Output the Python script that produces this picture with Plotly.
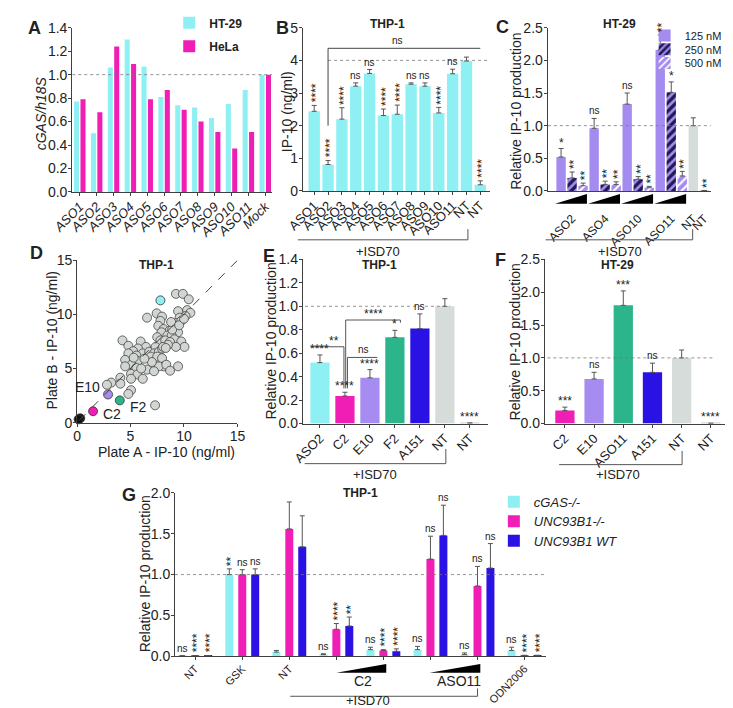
import plotly.graph_objects as go

W, H = 733, 708
def X(p): return p / W
def Y(p): return 1 - p / H

FONT = "Liberation Sans, Arial, Helvetica, sans-serif"
CYAN = "#8ef0f3"
MAGENTA = "#f01eb4"
BLUE = "#2b12e4"
LAVENDER = "#a68cf0"
GREEN = "#2cb48b"
GREY = "#d6dcda"
PURPLE = "#a48bf0"
NAVY = "#211a52"
AXC = "#404040"
ERRC = "#555555"
TXT = "#222222"

# ---------------- data ----------------
# Panel A
a_labels = ["ASO1", "ASO2", "ASO3", "ASO4", "ASO5", "ASO6", "ASO7", "ASO8", "ASO9", "ASO10", "ASO11", "Mock"]
a_ht29 = [0.77, 0.50, 1.06, 1.30, 1.07, 0.81, 0.74, 0.72, 0.63, 0.75, 0.87, 1.00]
a_hela = [0.79, 0.68, 1.24, 1.09, 0.79, 0.87, 0.70, 0.60, 0.51, 0.37, 0.51, 1.00]

# Panel B
b_labels = ["ASO1", "ASO2", "ASO3", "ASO4", "ASO5", "ASO6", "ASO7", "ASO8", "ASO9", "ASO10", "ASO11", "NT", "NT"]
b_vals = [2.44, 0.81, 2.20, 3.21, 3.60, 2.31, 2.35, 3.27, 3.21, 2.39, 3.59, 3.98, 0.19]
b_err = [0.18, 0.12, 0.35, 0.10, 0.12, 0.20, 0.28, 0.04, 0.10, 0.17, 0.14, 0.12, 0.12]
b_sig = ["****", "****", "****", "ns", "ns", "****", "****", "ns", "ns", "****", "ns", "", "****"]

# Panel C
c_groups = ["ASO2", "ASO4", "ASO10", "ASO11"]
c_nt_labels = ["NT", "NT"]
c_125 = [0.52, 0.96, 1.33, 2.16]
c_125_err = [0.13, 0.15, 0.17, 0.23]
c_250 = [0.20, 0.10, 0.18, 1.51]
c_250_err = [0.09, 0.05, 0.04, 0.16]
c_500 = [0.08, 0.10, 0.05, 0.23]
c_500_err = [0.04, 0.04, 0.02, 0.07]
c_nt = [1.00, 0.005]
c_nt_err = [0.12, 0.0]
c_sig_125 = ["*", "ns", "ns", "**"]
c_sig_250 = ["**", "**", "**", "*"]
c_sig_500 = ["**", "**", "**", "**"]
c_sig_nt = ["", "**"]

# Panel D
d_plate_a = [9.25, 9.9, 10.45, 7.45, 7.95, 6.55, 7.8, 9.45, 10.3, 10.6,
             10.15, 9.6, 9.25, 9.75, 9.0, 7.6, 8.1, 8.65, 7.9, 9.15,
             9.45, 8.45, 8.85, 7.5, 7.8, 8.25, 9.1, 8.7, 9.75, 10.05,
             9.25, 4.25, 4.8, 5.95, 6.45, 5.7, 5.25, 4.8, 6.15, 6.75,
             7.35, 7.2, 7.65, 7.95, 6.9, 7.5, 5.55, 4.5, 5.7, 5.1,
             4.5, 7.95, 8.1, 7.65, 8.35, 6.55, 7.2, 8.7, 9.45, 5.55,
             5.05, 5.65, 6.15, 5.05, 4.05, 4.05, 3.2, 2.8, 5.05, 4.8,
             7.3, 8.5, 8.9, 8.05, 7.0, 6.0, 8.8, 9.55, 10.0, 8.3,
             6.3, 5.3]
d_plate_b = [11.9, 11.9, 11.4, 10.1, 9.8, 9.7, 9.4, 10.3, 10.4, 10.15,
             9.85, 9.7, 9.2, 9.4, 9.0, 8.95, 8.65, 8.5, 8.35, 8.65,
             8.35, 8.05, 8.05, 7.9, 7.6, 7.6, 7.7, 7.45, 7.5, 7.0,
             7.0, 7.6, 7.1, 7.5, 7.0, 6.85, 6.6, 6.4, 6.4, 6.55,
             7.0, 6.4, 6.55, 6.85, 6.1, 6.1, 6.2, 5.8, 5.7, 5.35,
             5.2, 5.95, 5.2, 5.2, 5.35, 4.9, 4.75, 4.8, 5.2, 5.05,
             4.5, 4.45, 4.05, 4.05, 4.15, 3.6, 3.7, 3.5, 3.0, 2.65,
             1.6, 7.2, 8.6, 7.0, 5.6, 5.0, 9.3, 9.0, 9.6, 6.9,
             5.9, 6.0]
d_hits_names = ["ASO2", "E10", "F2", "C2", "NT", "NT"]
d_hits_a = [7.8, 2.9, 4.0, 1.5, 0.3, 0.15]
d_hits_b = [11.3, 2.6, 2.05, 1.05, 0.4, 0.3]
d_hits_colors = [CYAN, LAVENDER, GREEN, MAGENTA, "#111111", "#111111"]

# Panel E
e_labels = ["ASO2", "C2", "E10", "F2", "A151", "NT", "NT"]
e_vals = [0.52, 0.235, 0.39, 0.735, 0.81, 1.00, 0.004]
e_err = [0.065, 0.032, 0.07, 0.06, 0.125, 0.065, 0.0]
e_colors = [CYAN, MAGENTA, LAVENDER, GREEN, BLUE, GREY, GREY]
e_sig = ["****", "****", "****", "*", "ns", "", "****"]

# Panel F
f_labels = ["C2", "E10", "ASO11", "A151", "NT", "NT"]
f_vals = [0.20, 0.68, 1.80, 0.78, 1.00, 0.004]
f_err = [0.05, 0.10, 0.22, 0.14, 0.12, 0.0]
f_colors = [MAGENTA, LAVENDER, GREEN, BLUE, GREY, GREY]
f_sig = ["***", "ns", "***", "ns", "", "****"]

# Panel G
g_labels = ["NT", "GSK", "NT", "", "", "", "", "ODN2006"]
g_cgas = [0.005, 1.00, 0.05, 0.02, 0.08, 0.08, 0.02, 0.07]
g_cgas_err = [0.0, 0.07, 0.02, 0.01, 0.03, 0.04, 0.02, 0.04]
g_ko = [0.008, 1.00, 1.56, 0.33, 0.07, 1.19, 0.86, 0.01]
g_ko_err = [0.0, 0.06, 0.33, 0.07, 0.01, 0.28, 0.24, 0.0]
g_wt = [0.008, 1.00, 1.34, 0.37, 0.06, 1.48, 1.08, 0.01]
g_wt_err = [0.0, 0.07, 0.38, 0.11, 0.03, 0.37, 0.30, 0.0]
g_sig_cgas = ["ns", "**", "", "ns", "ns", "ns", "ns", "ns"]
g_sig_ko = ["****", "ns", "", "****", "****", "ns", "ns", "****"]
g_sig_wt = ["****", "ns", "", "**", "****", "ns", "ns", "****"]

# ---------------- helpers ----------------
fig = go.Figure()


def bars(xa, ya, xs, ys, color, width, center=0.0, err=None, pattern=None,
         name=None, legend=None):
    marker = dict(color=color, line=dict(width=0))
    if pattern is not None:
        marker["pattern"] = pattern
    kw = dict(x=xs, y=ys, xaxis=xa, yaxis=ya, width=width, offset=center - width / 2,
              marker=marker, showlegend=name is not None, name=name or "",
              hoverinfo="skip")
    if legend:
        kw["legend"] = legend
    if err is not None:
        kw["error_y"] = dict(type="data", array=err, arrayminus=[0] * len(err),
                             symmetric=False, color=ERRC, thickness=1, width=2.5)
    fig.add_trace(go.Bar(**kw))


def sig(xa, ya, x, y, text, vertical=True):
    if not text:
        return
    star = "*" in text
    rot = vertical and star and len(text) > 1
    fig.add_annotation(x=x, y=y, xref=xa, yref=ya, text=text, showarrow=False,
                       textangle=-90 if rot else 0, xanchor="center", yanchor="bottom",
                       yshift=(1 if rot else (-3 if star else 0)), xshift=(2 if rot else 0),
                       font=dict(size=12 if star else 10, color=TXT, family=FONT))


def line(xa, ya, x0, y0, x1, y1, color=ERRC, width=1, dash=None):
    ln = dict(color=color, width=width)
    if dash:
        ln["dash"] = dash
    fig.add_shape(type="line", xref=xa, yref=ya, x0=x0, y0=y0, x1=x1, y1=y1, line=ln)


def text(xp, yp, t, size=13, bold=False, angle=0, italic=False, xanchor="center", color=TXT):
    if bold:
        t = "<b>" + t + "</b>"
    if italic:
        t = "<i>" + t + "</i>"
    fig.add_annotation(x=X(xp), y=Y(yp), xref="paper", yref="paper", text=t, showarrow=False,
                       textangle=angle, xanchor=xanchor, yanchor="middle",
                       font=dict(size=size, color=color, family=FONT))


def isd_bracket(x0, x1, ytop, ybar, xlab, ylab):
    fig.add_shape(type="line", xref="paper", yref="paper", x0=X(x0), x1=X(x1), y0=Y(ybar), y1=Y(ybar),
                  line=dict(color="#555", width=1))
    fig.add_shape(type="line", xref="paper", yref="paper", x0=X(x1), x1=X(x1), y0=Y(ytop), y1=Y(ybar),
                  line=dict(color="#555", width=1))
    text(xlab, ylab, "+ISD70", size=13)


def wedge(xa, x0, x1, ytop, ybot):
    fig.add_shape(type="path", xref=xa, yref="paper",
                  path=f"M {x0},{Y(ybot)} L {x1},{Y(ybot)} L {x1},{Y(ytop)} Z",
                  fillcolor="black", line=dict(width=0))


# ---------------- Panel A ----------------
ia = list(range(len(a_labels)))
bars("x", "y", ia, a_ht29, CYAN, 0.30, -0.19, name="<b>HT-29</b>", legend="legend")
bars("x", "y", ia, a_hela, MAGENTA, 0.30, 0.19, name="<b>HeLa</b>", legend="legend2")
line("x", "y", -0.45, 1.0, 11.45, 1.0, color="#777", width=0.8, dash="dot")

# ---------------- Panel B ----------------
ib = list(range(len(b_labels)))
bars("x2", "y2", ib, b_vals, CYAN, 0.82, 0.0, err=b_err)
for i in ib:
    sig("x2", "y2", i, b_vals[i] + b_err[i], b_sig[i])
line("x2", "y2", 1, 4.0, 12.6, 4.0, color="#777", width=0.8, dash="dot")
line("x2", "y2", 1, 4.37, 12.0, 4.37, color="#444")
line("x2", "y2", 1, 4.37, 1, 2.0, color="#444")
fig.add_annotation(x=6.0, y=4.37, xref="x2", yref="y2", text="ns", showarrow=False,
                   yanchor="bottom", font=dict(size=10, color=TXT, family=FONT))

# ---------------- Panel C ----------------
pos125 = [3 * g for g in range(4)]
pos250 = [3 * g + 1 for g in range(4)]
pos500 = [3 * g + 2 for g in range(4)]
posnt = [12, 13]
bars("x3", "y3", pos125, c_125, PURPLE, 0.85, err=c_125_err, name="125 nM", legend="legend3")
bars("x3", "y3", pos250, c_250, PURPLE, 0.85, err=c_250_err, name="250 nM", legend="legend4",
     pattern=dict(shape="/", fgcolor=NAVY, bgcolor=PURPLE, size=6, solidity=0.55, fillmode="replace"))
bars("x3", "y3", pos500, c_500, PURPLE, 0.85, err=c_500_err, name="500 nM", legend="legend5",
     pattern=dict(shape="/", fgcolor="white", bgcolor=PURPLE, size=6, solidity=0.35, fillmode="replace"))
bars("x3", "y3", posnt, c_nt, GREY, 0.85, err=c_nt_err)
for k in range(4):
    sig("x3", "y3", pos125[k], c_125[k] + c_125_err[k], c_sig_125[k])
    sig("x3", "y3", pos250[k], c_250[k] + c_250_err[k], c_sig_250[k])
    sig("x3", "y3", pos500[k], c_500[k] + c_500_err[k], c_sig_500[k])
    wedge("x3", 3 * k - 0.55, 3 * k + 2.35, 182, 192)
for k in range(2):
    sig("x3", "y3", posnt[k], c_nt[k] + c_nt_err[k], c_sig_nt[k])
line("x3", "y3", -1.2, 1.0, 13.6, 1.0, color="#777", width=0.8, dash="dot")

# ---------------- Panel D ----------------
line("x4", "y4", 0.2, 0.2, 15, 15, color="#444", width=1, dash="dash")
fig.add_trace(go.Scatter(x=d_plate_a, y=d_plate_b, xaxis="x4", yaxis="y4", mode="markers",
                         marker=dict(size=9, color="#d2d6d3", line=dict(color="#444", width=0.8)),
                         showlegend=False, hoverinfo="skip", cliponaxis=False))
fig.add_trace(go.Scatter(x=d_hits_a, y=d_hits_b, xaxis="x4", yaxis="y4", mode="markers",
                         marker=dict(size=9, color=d_hits_colors, line=dict(color="#333", width=0.8)),
                         showlegend=False, hoverinfo="skip", cliponaxis=False))
for name, xv, yv, anc, xs, ys in [("E10", 2.9, 2.6, "right", -6, 7), ("F2", 4.0, 2.05, "left", 8, -7),
                                  ("C2", 1.5, 1.05, "left", 8, -3)]:
    fig.add_annotation(x=xv, y=yv, xref="x4", yref="y4", text=name, showarrow=False,
                       xanchor=anc, yanchor="middle", xshift=xs, yshift=ys,
                       font=dict(size=14, color=TXT, family=FONT))

# ---------------- Panel E ----------------
ie = list(range(len(e_labels)))
bars("x5", "y5", ie, e_vals, e_colors, 0.77, err=e_err)
for i in ie:
    sig("x5", "y5", i, e_vals[i] + e_err[i], e_sig[i], vertical=False)
line("x5", "y5", -0.6, 1.0, 5.2, 1.0, color="#777", width=0.8, dash="dot")
# comparison brackets
line("x5", "y5", -0.38, 0.655, 0.96, 0.655)
line("x5", "y5", 0.96, 0.655, 0.96, 0.30)
line("x5", "y5", 1.1, 0.564, 2.3, 0.564)
line("x5", "y5", 1.1, 0.564, 1.1, 0.30)
line("x5", "y5", 1.03, 0.883, 3.22, 0.883)
line("x5", "y5", 1.03, 0.883, 1.03, 0.30)
line("x5", "y5", 3.22, 0.883, 3.22, 0.86)
for xt, yt, tt in [(0.55, 0.655, "**"), (1.75, 0.564, "ns"), (2.15, 0.883, "****")]:
    sig("x5", "y5", xt, yt, tt, vertical=False)

# ---------------- Panel F ----------------
iff = list(range(len(f_labels)))
bars("x6", "y6", iff, f_vals, f_colors, 0.66, err=f_err)
for i in iff:
    sig("x6", "y6", i, f_vals[i] + f_err[i], f_sig[i], vertical=False)
line("x6", "y6", -0.6, 1.0, 5.1, 1.0, color="#777", width=0.8, dash="dot")

# ---------------- Panel G ----------------
ig = list(range(len(g_labels)))
bars("x7", "y7", ig, g_cgas, CYAN, 0.17, -0.275, err=g_cgas_err, name="<i>cGAS-/-</i>", legend="legend6")
bars("x7", "y7", ig, g_ko, MAGENTA, 0.17, 0.0, err=g_ko_err, name="<i>UNC93B1-/-</i>", legend="legend7")
bars("x7", "y7", ig, g_wt, BLUE, 0.17, 0.275, err=g_wt_err, name="<i>UNC93B1 WT</i>", legend="legend8")
for i in ig:
    sig("x7", "y7", i - 0.275, g_cgas[i] + g_cgas_err[i], g_sig_cgas[i])
    sig("x7", "y7", i, g_ko[i] + g_ko_err[i], g_sig_ko[i])
    sig("x7", "y7", i + 0.275, g_wt[i] + g_wt_err[i], g_sig_wt[i])
line("x7", "y7", -0.43, 1.0, 7.45, 1.0, color="#777", width=0.8, dash="dot")
wedge("x7", 3.0, 4.06, 663, 672)
wedge("x7", 4.98, 6.06, 663, 672)
text(348, 680, "C2", size=14)
text(448, 680, "ASO11", size=14)

# ---------------- brackets +ISD70 ----------------
isd_bracket(280, 457, 218, 229, 363, 241)
isd_bracket(538, 691, 218, 229, 615, 241)
isd_bracket(287, 434, 443, 458, 360, 469)
isd_bracket(552, 680, 445, 459, 613, 469)
isd_bracket(272, 467, 688, 696, 353, 700)

# ---------------- panel letters, titles, axis titles ----------------
for L, xp, yp in [("A", 6, 12), ("B", 264, 12), ("C", 493, 11), ("D", 8, 242),
                  ("E", 250, 246), ("F", 491, 250), ("G", 104, 490)]:
    text(xp, yp, L, size=18, bold=True)
for t, xp, yp in [("THP-1", 373, 8), ("HT-29", 615, 8), ("THP-1", 133, 255),
                  ("THP-1", 365, 255), ("HT-29", 613, 255), ("THP-1", 345, 488)]:
    text(xp, yp, t, size=12, bold=True)
text(12, 100, "<i>cGAS/h18S</i>", size=14, angle=-90)
text(268, 98, "IP-10 (ng/ml)", size=14, angle=-90)
text(507, 97, "Relative IP-10 production", size=14, angle=-90)
text(24, 332, "Plate B - IP-10 (ng/ml)", size=14, angle=-90)
text(143, 446, "Plate A - IP-10 (ng/ml)", size=14)
text(252, 333, "Relative IP-10 production", size=14, angle=-90)
text(506, 333, "Relative IP-10 production", size=14, angle=-90)
text(121, 571, "Relative IP-10 production", size=14, angle=-90)

# ---------------- axes ----------------
TF = dict(size=14, color=TXT, family=FONT)
XF = dict(size=13, color=TXT, family=FONT)


def yax(top, bot, rng, dtick, fmt, anchor):
    return dict(domain=[Y(bot), Y(top)], range=rng, dtick=dtick, tick0=0, tickformat=fmt,
                anchor=anchor, showline=True, linecolor=AXC, linewidth=1, ticks="outside",
                ticklen=3, tickcolor=AXC, showgrid=False, zeroline=False, tickfont=TF,
                fixedrange=True, ticklabelstandoff=-2)


def xax(left, right, rng, anchor, tickvals=None, ticktext=None, angle=-45, ticks="outside",
        font=XF, standoff=-2, dtick=None):
    d = dict(domain=[X(left), X(right)], range=rng, anchor=anchor, showline=True,
             linecolor=AXC, linewidth=1, ticks=ticks, ticklen=3, tickcolor=AXC,
             showgrid=False, zeroline=False, tickfont=font, fixedrange=True, tickangle=angle,
             ticklabelstandoff=standoff)
    if tickvals is not None:
        d["tickmode"] = "array"
        d["tickvals"] = tickvals
        d["ticktext"] = ticktext
    if dtick is not None:
        d["dtick"] = dtick
        d["tick0"] = 0
    return d


c_tickvals = [3 * g + 1 for g in range(4)] + posnt
c_ticktext = c_groups + c_nt_labels

legend_base = dict(bgcolor="rgba(0,0,0,0)", borderwidth=0, xanchor="left", yanchor="middle",
                   itemclick=False, itemdoubleclick=False)


def leg(xp, yp, size):
    d = dict(legend_base)
    d.update(x=X(xp), y=Y(yp), font=dict(size=size, color=TXT, family=FONT))
    return d


fig.update_layout(
    width=W, height=H, margin=dict(l=0, r=0, t=0, b=0),
    paper_bgcolor="white", plot_bgcolor="white", barmode="overlay",
    font=dict(family=FONT, color=TXT), showlegend=True,
    xaxis=xax(45, 253, [-0.45, 11.4], "y", ia, a_labels,
              font=dict(size=13, color=TXT, family=FONT, style="italic")),
    yaxis=yax(12, 180, [0, 1.4], 0.2, ".1f", "x"),
    xaxis2=xax(285, 480, [-0.83, 12.7], "y2", ib, b_labels),
    yaxis2=yax(12, 179, [0, 5], 1, "d", "x2"),
    xaxis3=xax(540, 710, [-1.22, 13.6], "y3", c_tickvals, c_ticktext, ticks="", standoff=15,
               font=dict(size=12, color=TXT, family=FONT)),
    yaxis3=yax(12, 179, [0, 2.5], 0.5, ".1f", "x3"),
    xaxis4=xax(50, 217, [0, 15], "y4", angle=0, font=TF, dtick=5),
    yaxis4=yax(250, 416, [0, 15], 5, "d", "x4"),
    xaxis5=xax(285, 478, [-0.69, 6.73], "y5", ie, e_labels),
    yaxis5=yax(249, 417, [0, 1.4], 0.2, ".1f", "x5"),
    xaxis6=xax(537, 730, [-0.69, 5.66], "y6", iff, f_labels),
    yaxis6=yax(249, 417, [0, 2.5], 0.5, ".1f", "x6"),
    xaxis7=xax(152, 538, [-0.43, 7.45], "y7", ig, g_labels,
               font=dict(size=11, color=TXT, family=FONT)),
    yaxis7=yax(488, 655, [0, 2.0], 0.5, ".1f", "x7"),
    legend=leg(146, 7, 12),
    legend2=leg(146, 31, 12),
    legend3=leg(641, 20, 11),
    legend4=leg(641, 34, 11),
    legend5=leg(641, 48, 11),
    legend6=leg(484, 497, 13),
    legend7=leg(484, 517, 13),
    legend8=leg(484, 537, 13),
)

fig.write_html("out.html")
